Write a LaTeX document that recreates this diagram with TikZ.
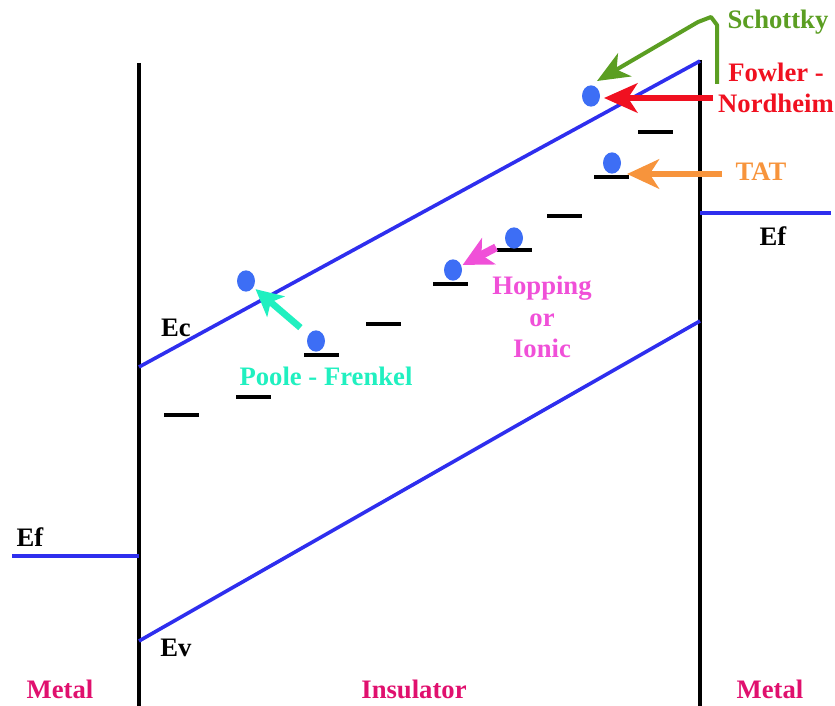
\documentclass[tikz,border=0pt]{standalone}
\usepackage{fontspec}
\setmainfont{Liberation Serif}
\usetikzlibrary{arrows.meta,shapes.geometric}
\definecolor{band}{HTML}{2E2EEE}
\definecolor{elec}{HTML}{3D6EF5}
\definecolor{lblmag}{HTML}{E0106E}
\definecolor{pfcol}{HTML}{20F0C0}
\definecolor{hopcol}{HTML}{F050D8}
\definecolor{tatcol}{HTML}{F7943C}
\definecolor{fncol}{HTML}{F01020}
\definecolor{schcol}{HTML}{5B9E22}
\tikzset{
  bandline/.style={band, line width=2.7pt},
  wall/.style={black, line width=2.4pt},
  trap/.style={black, line width=2.4pt},
  electron/.style={ellipse, fill=elec, draw=none, minimum width=13.5pt, minimum height=16pt, inner sep=0pt},
  lbl/.style={font=\fontsize{20}{23.5}\selectfont\bfseries, inner sep=0pt},
}
\begin{document}
\begin{tikzpicture}[x=0.75pt,y=-0.75pt]
\useasboundingbox (0,0) rectangle (835,706);
% walls
\coordinate (lwT) at (139,63); \coordinate (lwB) at (139,706);
\coordinate (rwT) at (700,60); \coordinate (rwB) at (700,706);
\draw[wall] (lwT) -- (lwB);
\draw[wall] (rwT) -- (rwB);
% bands
\coordinate (ecL) at (139,367); \coordinate (ecR) at (700,61);
\coordinate (evL) at (139,641); \coordinate (evR) at (700,321);
\draw[bandline] (ecL) -- (ecR);
\draw[bandline] (evL) -- (evR);
\coordinate (efL1) at (12,556); \coordinate (efL2) at (139,556);
\coordinate (efR1) at (700,213); \coordinate (efR2) at (831,213);
\draw[bandline] (efL1) -- (efL2);
\draw[bandline] (efR1) -- (efR2);
% traps
\foreach \x/\y/\n in {164/415/1,236/397/2,304/355/3,366/324/4,433/284/5,497/250/6,547/216/7,594/177/8,638/132/9}{
  \coordinate (t\n a) at (\x,\y); \coordinate (t\n b) at (\x+35,\y);
  \draw[trap] (t\n a) -- (t\n b);
}
% electrons
\node[electron] (e1) at (246,281) {};
\node[electron] (e2) at (316,341) {};
\node[electron] (e3) at (453,270) {};
\node[electron] (e4) at (514,238) {};
\node[electron] (e5) at (612,163) {};
\node[electron] (e6) at (591,96) {};
% labels
\node[lbl] (ecl) at (176,328) {Ec};
\node[lbl] (evl) at (176,648) {Ev};
\node[lbl] (efl) at (30,537) {Ef};
\node[lbl] (efr) at (773,236) {Ef};
\node[lbl, text=lblmag] (m1) at (60,689) {Metal};
\node[lbl, text=lblmag] (ins) at (414,689) {Insulator};
\node[lbl, text=lblmag] (m2) at (770,689) {Metal};
\node[lbl, text=pfcol] (pf) at (326,376) {Poole - Frenkel};
\node[lbl, text=hopcol, align=center] (hop) at (542,317) {Hopping\\or\\Ionic};
\node[lbl, text=tatcol] (tat) at (761,172) {TAT};
\node[lbl, text=fncol, align=center] (fn) at (776,88) {Fowler -\\Nordheim};
\node[lbl, text=schcol] (sch) at (778,22) {Schottky};
% arrows
\draw[pfcol, line width=5pt, -{Stealth[length=20pt,width=20pt,inset=5pt]}, shorten <=8pt, shorten >=2pt] (e2) -- (e1);
\draw[hopcol, line width=6pt, -{Stealth[length=22pt,width=22pt,inset=6pt]}, shorten <=8pt, shorten >=1pt] (e4) -- (e3);
\coordinate (tatS) at (722,174); \coordinate (tatE) at (627,174);
\draw[tatcol, line width=4.5pt, -{Stealth[length=24pt,width=22pt,inset=7pt]}] (tatS) -- (tatE);
\coordinate (fnS) at (713,98); \coordinate (fnE) at (604,98);
\draw[fncol, line width=5pt, -{Stealth[length=25pt,width=22pt,inset=7pt]}] (fnS) -- (fnE);
\coordinate (s1) at (717,84); \coordinate (s2) at (717,25); \coordinate (s3) at (711,17);
\coordinate (s4) at (698,22); \coordinate (s5) at (597,81);
\draw[schcol, line width=3pt, line join=round, -{Stealth[length=24pt,width=20pt,inset=7pt]}] (s1) -- (s2) -- (s3) -- (s4) -- (s5);
\end{tikzpicture}
\end{document}
